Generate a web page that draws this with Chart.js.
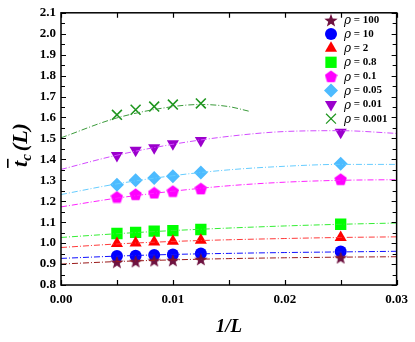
<!DOCTYPE html>
<html>
<head>
<meta charset="utf-8">
<script src="https://cdn.jsdelivr.net/npm/chart.js@4.4.1/dist/chart.umd.min.js"></script>
<style>
  html, body { margin: 0; padding: 0; background: #fff; }
  #wrap { width: 415px; height: 342px; }
</style>
</head>
<body>
<div id="wrap"><canvas id="chart" width="415" height="342"></canvas></div>
<script>
// ------------------- DATA -------------------
const invL = [0.005, 0.00667, 0.00833, 0.01, 0.0125, 0.025];
const rho100 = [0.911, 0.914, 0.918, 0.919, 0.924, 0.932];
const rho10 = [0.938, 0.940, 0.943, 0.946, 0.951, 0.960];
const rho2 = [0.998, 1.001, 1.005, 1.009, 1.014, 1.027];
const rho08 = [1.046, 1.051, 1.057, 1.060, 1.065, 1.090];
const rho01 = [1.220, 1.233, 1.240, 1.248, 1.260, 1.305];
const rho005 = [1.279, 1.300, 1.311, 1.319, 1.337, 1.379];
const rho001 = [1.418, 1.443, 1.456, 1.475, 1.490, 1.530];
const rho0001 = [1.613, 1.637, 1.652, 1.662, 1.667];

// fitted curves
const fitX = [0, 0.005, 0.01, 0.015, 0.02, 0.025, 0.03];
const fit100 = [0.900, 0.912, 0.920, 0.926, 0.930, 0.933, 0.935];
const fit10 = [0.927, 0.938, 0.946, 0.951, 0.955, 0.958, 0.961];
const fit2 = [0.979, 0.996, 1.008, 1.016, 1.022, 1.027, 1.030];
const fit08 = [1.027, 1.045, 1.060, 1.072, 1.082, 1.090, 1.096];
const fit01 = [1.173, 1.215, 1.248, 1.274, 1.291, 1.300, 1.303];
const fit005 = [1.232, 1.283, 1.322, 1.350, 1.367, 1.376, 1.376];
const fit001 = [1.352, 1.420, 1.472, 1.510, 1.533, 1.537, 1.524];
const fit0001X = [0, 0.005, 0.01, 0.0125, 0.015, 0.0168];
const fit0001 = [1.503, 1.598, 1.652, 1.662, 1.652, 1.630];

const legendLabels = ["100", "10", "2", "0.8", "0.1", "0.05", "0.01", "0.001"];
const xTicks = [0, 0.01, 0.02, 0.03];

// ------------------- MARKER IMAGES -------------------
function makeStar(size, color) {
    const c = document.createElement("canvas");
    c.width = size; c.height = size;
    const g = c.getContext("2d");
    const cx = size / 2, cy = size / 2 + 0.8, R = size / 2, r = R * 0.42;
    g.beginPath();
    for (let i = 0; i < 10; i++) {
        const a = -Math.PI / 2 + i * Math.PI / 5;
        const rr = i % 2 === 0 ? R : r;
        g.lineTo(cx + rr * Math.cos(a), cy + rr * Math.sin(a));
    }
    g.closePath();
    g.fillStyle = color;
    g.fill();
    return c;
}

function makePentagon(size, color) {
    const c = document.createElement("canvas");
    c.width = size; c.height = size;
    const g = c.getContext("2d");
    const cx = size / 2, cy = size / 2 + 0.6, R = size / 2;
    g.beginPath();
    for (let i = 0; i < 5; i++) {
        const a = -Math.PI / 2 + i * 2 * Math.PI / 5;
        g.lineTo(cx + R * Math.cos(a), cy + R * Math.sin(a));
    }
    g.closePath();
    g.fillStyle = color;
    g.fill();
    return c;
}

const starImg = makeStar(14, "#6E1240");
const pentImg = makePentagon(13, "#FF00FF");

function pts(xs, ys) {
    return ys.map((y, i) => ({ x: xs[i], y: y }));
}

const markerSets = [
    { data: rho100, xs: invL, color: "#6E1240", style: starImg, radius: 7, rot: 0 },
    { data: rho10, xs: invL, color: "#0000FF", style: "circle", radius: 6, rot: 0 },
    { data: rho2, xs: invL, color: "#FF0000", style: "triangle", radius: 7, rot: 0 },
    { data: rho08, xs: invL, color: "#00FF00", style: "rect", radius: 8, rot: 0 },
    { data: rho01, xs: invL, color: "#FF00FF", style: pentImg, radius: 6, rot: 0 },
    { data: rho005, xs: invL, color: "#4DBBFF", style: "rectRot", radius: 7, rot: 0 },
    { data: rho001, xs: invL, color: "#9B00CC", style: "triangle", radius: 7, rot: 180 },
    { data: rho0001, xs: invL, color: "#1E961E", style: "crossRot", radius: 7, rot: 0 }
];

const fitSets = [
    { data: fit100, xs: fitX, color: "#9A1A1A" },
    { data: fit10, xs: fitX, color: "#1010FF" },
    { data: fit2, xs: fitX, color: "#FF3A3A" },
    { data: fit08, xs: fitX, color: "#33EE33" },
    { data: fit01, xs: fitX, color: "#FF22FF" },
    { data: fit005, xs: fitX, color: "#66CCFF" },
    { data: fit001, xs: fitX, color: "#D24BFF" },
    { data: fit0001, xs: fit0001X, color: "#3A9A3A" }
];

const datasets = [];
fitSets.forEach(f => {
    datasets.push({
        data: pts(f.xs, f.data),
        showLine: true,
        borderColor: f.color,
        borderWidth: 1,
        borderDash: [6, 2, 1, 2],
        pointRadius: 0,
        cubicInterpolationMode: "monotone",
        fill: false
    });
});
markerSets.forEach(m => {
    const cross = m.style === "crossRot";
    datasets.push({
        data: pts(m.xs, m.data),
        showLine: false,
        pointStyle: m.style,
        pointRadius: m.radius,
        pointRotation: m.rot,
        backgroundColor: m.color,
        borderColor: m.color,
        pointBorderWidth: cross ? 1.6 : 0
    });
});

// ------------------- FRAME, TICKS, TITLES, LEGEND -------------------
const decorPlugin = {
    id: "decor",
    afterDraw(chart) {
        const ctx = chart.ctx;
        const a = chart.chartArea;
        const xs = chart.scales.x, ys = chart.scales.y;
        ctx.save();

        // frame
        ctx.strokeStyle = "#000";
        ctx.lineWidth = 1.5;
        ctx.strokeRect(a.left, a.top, a.right - a.left, a.bottom - a.top);

        // inward ticks
        ctx.lineWidth = 1.2;
        ctx.beginPath();
        for (let k = 0; k <= 26; k++) {
            const py = Math.round(ys.getPixelForValue(0.8 + k * 0.05)) + 0.5;
            const len = k % 2 === 0 ? 5 : 4;
            ctx.moveTo(a.left, py); ctx.lineTo(a.left + len, py);
            ctx.moveTo(a.right, py); ctx.lineTo(a.right - len, py);
        }
        for (let k = 0; k <= 6; k++) {
            const px = Math.round(xs.getPixelForValue(k * 0.005)) + 0.5;
            ctx.moveTo(px, a.bottom); ctx.lineTo(px, a.bottom - 5);
            ctx.moveTo(px, a.top); ctx.lineTo(px, a.top + 5);
        }
        ctx.stroke();

        // x title
        ctx.fillStyle = "#000";
        ctx.font = "italic bold 19px 'Liberation Serif'";
        ctx.textAlign = "center";
        ctx.textBaseline = "alphabetic";
        ctx.fillText("1/L", 229, 332);

        // y title
        ctx.save();
        ctx.translate(27, 145);
        ctx.rotate(-Math.PI / 2);
        ctx.textAlign = "left";
        const big = "italic bold 22px 'Liberation Serif'";
        const small = "italic bold 15px 'Liberation Serif'";
        ctx.font = big;
        const wT = ctx.measureText("t").width;
        const wL = ctx.measureText("(L)").width;
        ctx.font = small;
        const wC = ctx.measureText("c").width;
        const total = wT + wC + 3 + wL;
        let x0 = -total / 2;
        ctx.font = big;
        ctx.fillText("t", x0, 0);
        ctx.fillRect(x0 - 1, -20, wT + 3, 1.6);
        ctx.font = small;
        ctx.fillText("c", x0 + wT, 4);
        ctx.font = big;
        ctx.fillText("(L)", x0 + wT + wC + 3, 0);
        ctx.restore();

        // legend
        const lx = 331, ly0 = 20, step = 14.1;
        markerSets.forEach((m, i) => {
            const y = ly0 + i * step;
            ctx.fillStyle = m.color;
            ctx.strokeStyle = m.color;
            Chart.helpers.drawPoint(ctx, {
                pointStyle: m.style,
                radius: m.radius,
                rotation: m.rot,
                borderWidth: m.style === "crossRot" ? 1.6 : 0
            }, lx, y);
            ctx.fillStyle = "#000";
            ctx.textAlign = "left";
            ctx.textBaseline = "middle";
            ctx.font = "italic 12px 'DejaVu Serif'";
            ctx.fillText("\u03C1", 344, y + 1);
            ctx.font = "bold 11px 'Liberation Serif'";
            ctx.fillText(" = " + legendLabels[i], 351, y);
        });

        ctx.restore();
    }
};

// ------------------- CHART -------------------
const chart = new Chart(document.getElementById("chart").getContext("2d"), {
    type: "scatter",
    data: { datasets: datasets },
    options: {
        responsive: false,
        animation: false,
        layout: { padding: { left: 0, top: 12, right: 17, bottom: 0 } },
        plugins: {
            legend: { display: false },
            tooltip: { enabled: false }
        },
        scales: {
            x: {
                type: "linear",
                min: 0, max: 0.03,
                afterFit: s => { s.height = 57; },
                afterBuildTicks: s => { s.ticks = xTicks.map(v => ({ value: v })); },
                grid: { display: false, drawTicks: false },
                border: { display: false },
                ticks: {
                    padding: 7,
                    color: "#000",
                    font: { family: "'Liberation Serif'", size: 13, weight: "bold" },
                    callback: v => v.toFixed(2)
                }
            },
            y: {
                type: "linear",
                min: 0.8, max: 2.1,
                afterFit: s => { s.width = 61; },
                grid: { display: false, drawTicks: false },
                border: { display: false },
                ticks: {
                    stepSize: 0.1,
                    padding: 5,
                    color: "#000",
                    font: { family: "'Liberation Serif'", size: 13, weight: "bold" },
                    callback: v => v.toFixed(1)
                }
            }
        }
    },
    plugins: [decorPlugin]
});
</script>
</body>
</html>
